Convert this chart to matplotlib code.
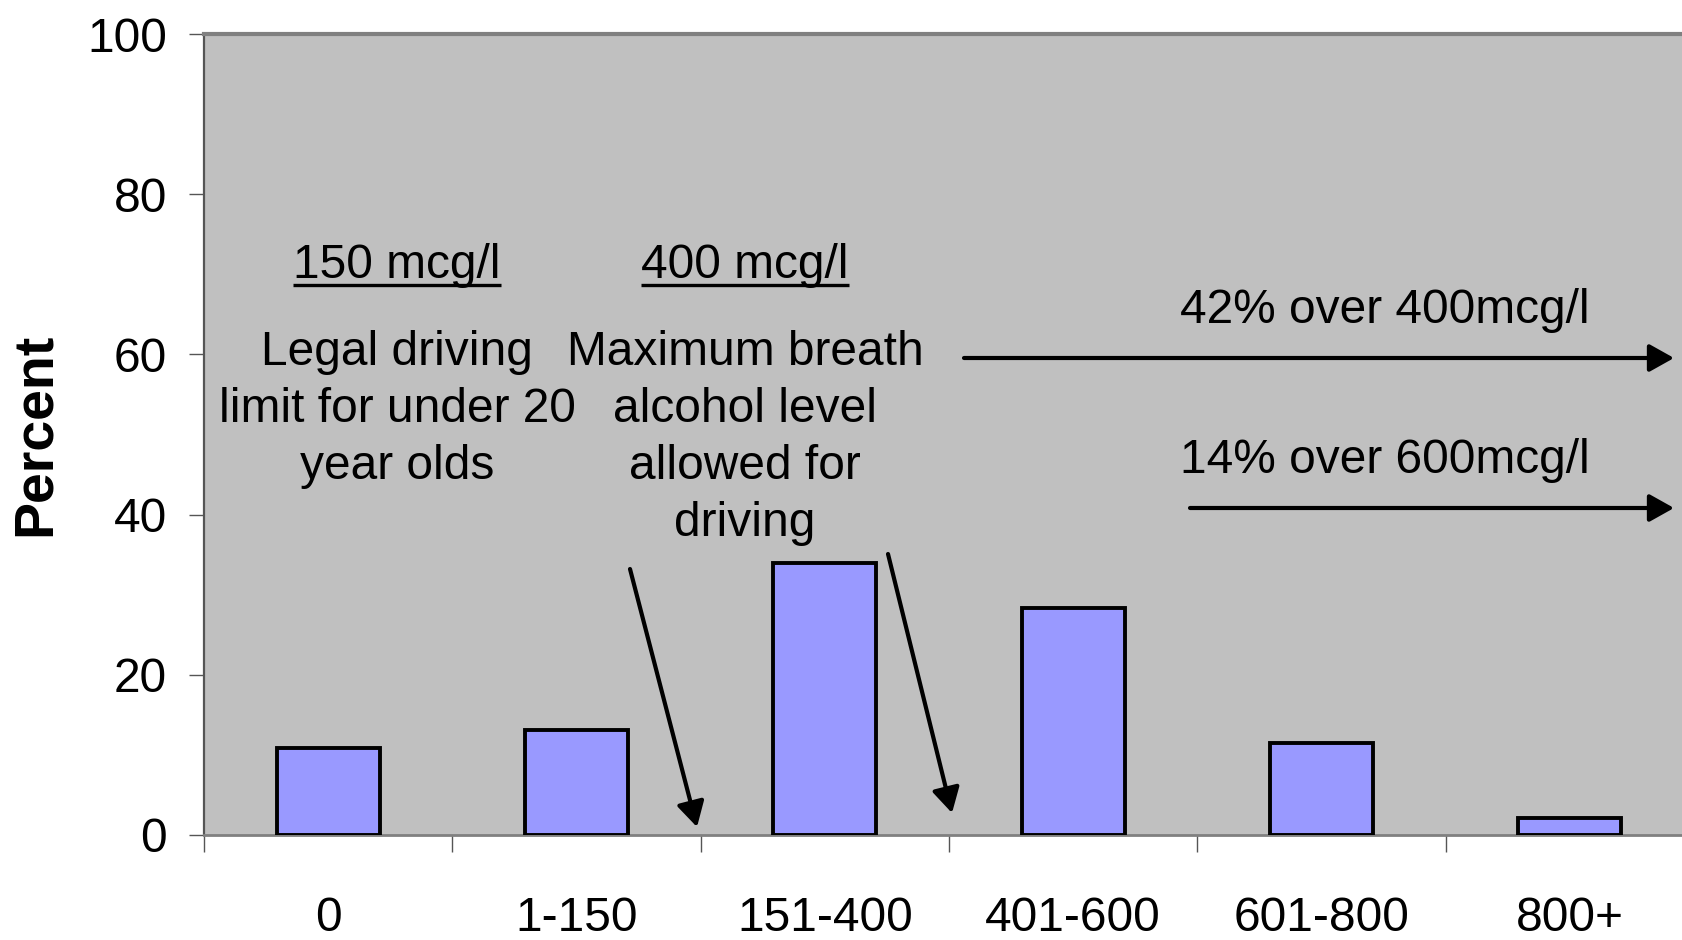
import matplotlib
matplotlib.use("Agg")
import matplotlib.pyplot as plt
from matplotlib import font_manager
import numpy as np

# ---- data ----
categories = ["0", "1-150", "151-400", "401-600", "601-800", "800+"]
percent = [10.9, 13.1, 34.0, 28.3, 11.5, 2.1]
yticks = [0, 20, 40, 60, 80, 100]
ylabel = "Percent"
note1_title = "150 mcg/l"
note1_lines = ["Legal driving", "limit for under 20", "year olds"]
note2_title = "400 mcg/l"
note2_lines = ["Maximum breath", "alcohol level", "allowed for", "driving"]
over400 = "42% over 400mcg/l"
over600 = "14% over 600mcg/l"

plt.rcParams['font.family'] = ['Liberation Sans', 'DejaVu Sans']


def has_font(name):
    try:
        font_manager.findfont(name, fallback_to_default=False)
        return True
    except Exception:
        return False


if has_font('Liberation Sans Narrow'):
    tick_family = ['Liberation Sans Narrow', 'Liberation Sans']
    tick_size = 39
else:
    tick_family = ['Liberation Sans', 'DejaVu Sans']
    tick_size = 34.5

W, H = 1683, 940
fig = plt.figure(figsize=(W / 100, H / 100), dpi=100)
fig.patch.set_facecolor('white')
# axes extends past the right edge of the figure as in the reference
ax = fig.add_axes([204 / W, (H - 835) / H, 1490 / W, (835 - 34) / H])
ax.set_facecolor('#C0C0C0')

x = np.arange(len(categories))
ax.bar(x, percent, width=0.415, color='#9999FF', edgecolor='black', linewidth=2.8, zorder=3)

ax.set_xlim(-0.5, len(categories) - 0.5)
ax.set_ylim(0, 100)

# spines
ax.spines['top'].set_color('#808080')
ax.spines['top'].set_linewidth(3)
ax.spines['right'].set_visible(False)
ax.spines['left'].set_color('#555555')
ax.spines['left'].set_linewidth(1.6)
ax.spines['bottom'].set_color('#808080')
ax.spines['bottom'].set_linewidth(2)

# y ticks
ax.set_yticks(yticks)
ax.set_yticklabels([str(v) for v in yticks], family=tick_family, fontsize=tick_size)
ax.tick_params(axis='y', direction='out', length=10.8, width=1, color='#555555', pad=16)

# x ticks: marks at boundaries, labels at centres
ax.set_xticks(np.arange(len(categories) + 1) - 0.5)
ax.set_xticklabels([])
ax.tick_params(axis='x', which='major', direction='out', length=12, width=1, color='#555555')
ax.set_xticks(x, minor=True)
ax.set_xticklabels(categories, minor=True, family=tick_family, fontsize=tick_size)
ax.tick_params(axis='x', which='minor', length=0, pad=44)

fig.text(36 / W, 1 - 434 / H, ylabel, rotation=90, fontsize=40, fontweight='bold',
         ha='center', va='center')

fs = 34.5


def px2data(px, py):
    return ((px - 204) / 248.33 - 0.5, (835 - py) / 8.01)


texts_to_underline = []

# note 1
cx, _ = px2data(397, 0)
t = ax.text(cx, px2data(0, 278)[1], note1_title, ha='center', va='baseline', fontsize=fs, zorder=5)
texts_to_underline.append(t)
for line, by in zip(note1_lines, [365, 422, 479]):
    ax.text(cx, px2data(0, by)[1], line, ha='center', va='baseline', fontsize=fs, zorder=5)

# note 2
cx, _ = px2data(745, 0)
t = ax.text(cx, px2data(0, 278)[1], note2_title, ha='center', va='baseline', fontsize=fs, zorder=5)
texts_to_underline.append(t)
for line, by in zip(note2_lines, [365, 422, 479, 536]):
    ax.text(cx, px2data(0, by)[1], line, ha='center', va='baseline', fontsize=fs, zorder=5)

# right-hand notes
cx, _ = px2data(1385, 0)
ax.text(cx, px2data(0, 323)[1], over400, ha='center', va='baseline', fontsize=fs, zorder=5)
ax.text(cx, px2data(0, 473)[1], over600, ha='center', va='baseline', fontsize=fs, zorder=5)

arrow_style = dict(arrowstyle='-|>,head_length=0.5,head_width=0.28', lw=3, color='black',
                   mutation_scale=30, shrinkA=0, shrinkB=0)

for (sx, sy), (ex, ey) in [((964, 358), (1674, 358)),
                           ((1190, 508), (1674, 508)),
                           ((630, 569), (697, 827)),
                           ((888, 554), (952, 813))]:
    ax.annotate('', xy=px2data(ex, ey), xytext=px2data(sx, sy), arrowprops=arrow_style,
                zorder=6, annotation_clip=False)

# underline the titles using their rendered extents
fig.canvas.draw()
renderer = fig.canvas.get_renderer()
inv = ax.transData.inverted()
for t in texts_to_underline:
    bb = t.get_window_extent(renderer)
    x0, _ = inv.transform((bb.x0, 0))
    x1, _ = inv.transform((bb.x1, 0))
    yline = px2data(0, 285)[1]
    ax.plot([x0, x1], [yline, yline], color='black', lw=2.4, solid_capstyle='butt', zorder=5)

fig.savefig('out.png', dpi=100, facecolor='white')
